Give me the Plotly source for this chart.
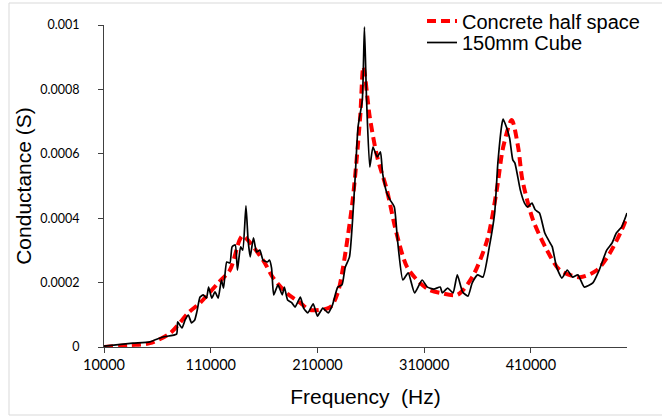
import plotly.graph_objects as go

# Concrete half space (red dashed)
red_freq = [10000, 34000, 53000, 72000, 89000, 100000, 117000, 128000, 137000, 140000,
            159000, 168000, 181000, 194000, 203000, 222000, 229000, 234000, 243000, 250000,
            253000, 259000, 266000, 275000, 284000, 294000, 306000, 315000, 325000, 341000,
            355000, 369000, 378000, 384000, 392000, 398000, 402000, 412000, 425000, 437000,
            456000, 472000, 484000, 495000, 500000]
red_cond = [0, 6e-6, 12e-6, 43e-6, 106e-6, 137e-6, 199e-6, 239e-6, 332e-6, 345e-6,
            270e-6, 217e-6, 168e-6, 137e-6, 115e-6, 124e-6, 168e-6, 248e-6, 457e-6, 714e-6,
            870e-6, 714e-6, 590e-6, 488e-6, 354e-6, 248e-6, 199e-6, 177e-6, 168e-6, 162e-6,
            217e-6, 332e-6, 488e-6, 621e-6, 705e-6, 621e-6, 519e-6, 394e-6, 301e-6, 239e-6,
            217e-6, 239e-6, 292e-6, 363e-6, 404e-6]

# 150mm Cube (black solid)
blk_freq = [10000, 37000, 53000, 65000, 78000, 79000, 83000, 86000, 89000, 92000,
            95000, 97000, 100000, 103000, 106000, 108000, 111000, 114000, 117000, 120000,
            122000, 125000, 128000, 130000, 133000, 135000, 138000, 140000, 143000, 145000,
            147000, 150000, 153000, 156000, 159000, 163000, 165000, 167000, 169000, 173000,
            177000, 179000, 182000, 186000, 189000, 194000, 197000, 201000, 206000, 210000,
            215000, 220000, 224000, 229000, 233000, 236000, 240000, 245000, 248000, 252000,
            254000, 256000, 259000, 262000, 266000, 269000, 271000, 275000, 278000, 282000,
            285000, 290000, 295000, 301000, 308000, 313000, 319000, 325000, 327000, 332000,
            337000, 341000, 346000, 351000, 355000, 360000, 365000, 371000, 376000, 379000,
            383000, 384000, 387000, 390000, 393000, 395000, 400000, 404000, 407000, 411000,
            414000, 418000, 423000, 428000, 430000, 434000, 439000, 444000, 449000, 454000,
            460000, 468000, 474000, 481000, 486000, 490000, 495000, 500000]
blk_cond = [3e-6, 12e-6, 16e-6, 31e-6, 40e-6, 78e-6, 59e-6, 84e-6, 99e-6, 75e-6,
            84e-6, 109e-6, 155e-6, 162e-6, 152e-6, 186e-6, 152e-6, 171e-6, 152e-6, 208e-6,
            183e-6, 264e-6, 261e-6, 311e-6, 317e-6, 239e-6, 311e-6, 301e-6, 438e-6, 332e-6,
            280e-6, 339e-6, 295e-6, 301e-6, 270e-6, 264e-6, 270e-6, 245e-6, 162e-6, 193e-6,
            162e-6, 186e-6, 146e-6, 137e-6, 124e-6, 155e-6, 121e-6, 106e-6, 134e-6, 96e-6,
            121e-6, 106e-6, 130e-6, 186e-6, 193e-6, 248e-6, 280e-6, 509e-6, 683e-6, 767e-6,
            994e-6, 767e-6, 559e-6, 621e-6, 590e-6, 606e-6, 540e-6, 478e-6, 457e-6, 435e-6,
            332e-6, 208e-6, 230e-6, 168e-6, 208e-6, 186e-6, 180e-6, 186e-6, 168e-6, 183e-6,
            168e-6, 224e-6, 171e-6, 158e-6, 199e-6, 224e-6, 217e-6, 311e-6, 416e-6, 571e-6,
            696e-6, 708e-6, 683e-6, 649e-6, 581e-6, 571e-6, 488e-6, 447e-6, 435e-6, 447e-6,
            426e-6, 416e-6, 354e-6, 323e-6, 311e-6, 248e-6, 214e-6, 239e-6, 217e-6, 224e-6,
            186e-6, 199e-6, 239e-6, 301e-6, 323e-6, 354e-6, 373e-6, 416e-6]

x_ticks = [10000, 110000, 210000, 310000, 410000]
x_tick_labels = ["10000", "110000", "210000", "310000", "410000"]
y_ticks = [0, 0.0002, 0.0004, 0.0006, 0.0008, 0.001]
y_tick_labels = ["0", "0.0002", "0.0004", "0.0006", "0.0008", "0.001"]

L, R, T, B = 104, 35, 25, 70
W, H = 662, 417
pw, ph = W - L - R, H - T - B

fig = go.Figure()
fig.add_trace(go.Scatter(
    x=red_freq, y=red_cond, mode="lines", name="Concrete half space", legend="legend",
    line=dict(color="#ff0000", width=4, dash="9px,5px", shape="spline", smoothing=0.8),
))
fig.add_trace(go.Scatter(
    x=blk_freq, y=blk_cond, mode="lines", name="150mm Cube", legend="legend2",
    line=dict(color="#000000", width=1.7, shape="spline", smoothing=0.5),
))

leg_font = dict(family="Liberation Sans, Arial", size=20, color="#000")
leg_x = 422 / W

fig.update_layout(
    width=W, height=H,
    margin=dict(l=L, r=R, t=T, b=B, autoexpand=False),
    paper_bgcolor="white", plot_bgcolor="white",
    showlegend=True,
    legend=dict(x=leg_x, y=1 - 1.5 / H, xref="container", yref="container",
                xanchor="left", yanchor="top",
                bgcolor="rgba(0,0,0,0)", font=leg_font, itemwidth=30),
    legend2=dict(x=leg_x, y=1 - 23.0 / H, xref="container", yref="container",
                 xanchor="left", yanchor="top",
                 bgcolor="rgba(0,0,0,0)", font=leg_font, itemwidth=30),
    xaxis=dict(range=[10000, 500000], tickvals=x_ticks, ticktext=x_tick_labels,
               showgrid=False, zeroline=False, showline=True, linecolor="#404040", linewidth=1,
               ticks="outside", ticklen=5, tickcolor="#404040",
               tickfont=dict(family="Lato, Carlito, Calibri", size=14.5, color="#000"),
               title=dict(text="Frequency  (Hz)", font=dict(family="Liberation Sans, Arial", size=21, color="#000"),
                          standoff=16)),
    yaxis=dict(range=[0, 0.001], tickvals=y_ticks, ticktext=y_tick_labels,
               showgrid=False, zeroline=False, showline=True, linecolor="#404040", linewidth=1,
               ticks="outside", ticklen=5, tickcolor="#404040", ticklabelstandoff=16,
               tickfont=dict(family="Lato, Carlito, Calibri", size=12.5, color="#000"),
               title=dict(text="Conductance (S)", font=dict(family="Liberation Sans, Arial", size=21, color="#000"),
                          standoff=2)),
    shapes=[dict(type="rect", xref="paper", yref="paper",
                 x0=(9 - L) / pw, x1=(668 - L) / pw,
                 y0=(H - B - 415) / ph, y1=(H - B - 3) / ph,
                 line=dict(color="#d9d9d9", width=1), layer="below")],
)

fig.write_html("out.html", config={"displayModeBar": False},
               post_script="document.body.style.margin='0';")
